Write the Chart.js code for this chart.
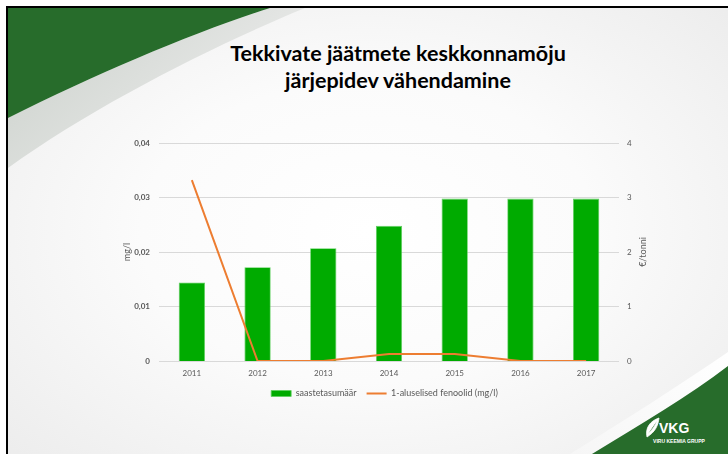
<!DOCTYPE html>
<html><head><meta charset="utf-8">
<script src="https://cdn.jsdelivr.net/npm/chart.js@4/dist/chart.umd.min.js"></script>
<style>
html,body{margin:0;padding:0;background:#fff;}
#wrap{position:relative;width:728px;height:454px;overflow:hidden;background:#fff;}
#slide{position:absolute;left:6px;top:6px;width:722px;height:448px;border-left:2px solid #000;border-top:2px solid #000;box-sizing:border-box;
 background:radial-gradient(ellipse 70% 75% at 50% 50%, #ffffff 0%, #fbfbfb 45%, #ececec 100%);}
#deco{position:absolute;left:0;top:0;}
#title{position:absolute;left:34px;width:728px;top:40px;text-align:center;font-family:Lato,"Open Sans",sans-serif;font-weight:bold;font-size:21.5px;line-height:27px;color:#000;}
#c{position:absolute;left:0;top:0;}
</style></head><body>
<div id="wrap">
<div id="slide"></div>
<svg id="deco" width="728" height="454">
 <defs>
  <linearGradient id="band" x1="0" y1="0" x2="1" y2="0.6">
   <stop offset="0" stop-color="#c9cfc9"/><stop offset="1" stop-color="#eeeeee"/>
  </linearGradient>
  <linearGradient id="band2" x1="1" y1="0" x2="0" y2="1">
   <stop offset="0" stop-color="#ffffff"/><stop offset="1" stop-color="#f6f6f6"/>
  </linearGradient>
 </defs>
 <path d="M270,8 L305,8 C215,45 95,105 8,168 L8,118 C100,72 195,32 270,8 Z" fill="url(#band)"/>
 <path d="M8,8 L270,8 C195,32 100,72 8,118 Z" fill="#276c2b"/>
 <path d="M728,352 L728,366 C690,395 640,425 592,454 L570,454 C625,420 680,385 728,352 Z" fill="url(#band2)"/>
 <path d="M728,366 L728,454 L592,454 C640,425 690,395 728,366 Z" fill="#276c2b"/>
 <path d="M647,437 C645,428 650,421 659,418 C658,426 655,432 647,437 Z M648,434 C652,430 655,426 657,421" fill="#fff" stroke="#fff" stroke-width="0.8"/>
 <text x="659" y="433" font-family="Liberation Sans,Arial,sans-serif" font-weight="bold" font-size="14" fill="#fff">VKG</text>
 <text x="679" y="443" text-anchor="middle" font-family="Liberation Sans,Arial,sans-serif" font-weight="bold" font-size="5" fill="#fff">VIRU KEEMIA GRUPP</text>
</svg>
<div id="title">Tekkivate jäätmete keskkonnamõju<br>järjepidev vähendamine</div>
<canvas id="c" width="728" height="454"></canvas>
</div>
<script>
const categories = ["2011","2012","2013","2014","2015","2016","2017"];
const barLabel = "saastetasumäär";
const barValues = [1.44, 1.72, 2.07, 2.48, 2.98, 2.98, 2.98];
const lineLabel = "1-aluselised fenoolid (mg/l)";
const lineValues = [0.0332, 0, 0, 0.0013, 0.0013, 0, 0];
const leftTitle = "mg/l";
const rightTitle = "€/tonni";

const tickColor = "#595959";
const rightTitlePlugin = {
  id: "rightTitle",
  afterLayout(chart) {
    if (chart.legend) { chart.legend.left -= 11; chart.legend.right -= 11; }
  },
  afterDraw(chart) {
    const ctx = chart.ctx, a = chart.chartArea;
    ctx.save();
    ctx.translate(643, (a.top + a.bottom) / 2);
    ctx.rotate(-Math.PI / 2);
    ctx.font = "9px Lato, 'Open Sans', sans-serif";
    ctx.fillStyle = tickColor;
    ctx.textAlign = "center";
    ctx.textBaseline = "middle";
    ctx.fillText(rightTitle, 0, 0);
    ctx.restore();
  }
};

new Chart(document.getElementById("c"), {
  data: {
    labels: categories,
    datasets: [
      { type: "line", label: lineLabel, data: lineValues, yAxisID: "y",
        borderColor: "#ED7D31", backgroundColor: "#ED7D31", borderWidth: 2,
        pointRadius: 0, tension: 0, pointStyle: "line", order: 0 },
      { type: "bar", label: barLabel, data: barValues, yAxisID: "y1",
        backgroundColor: "#00AB00", borderColor: "#5fcf5f", borderWidth: 0.8,
        categoryPercentage: 1, barPercentage: 0.4, pointStyle: "rect", order: 1 }
    ]
  },
  options: {
    responsive: false, animation: false,
    layout: { padding: { left: 122, right: 59, top: 143, bottom: 46 } },
    plugins: {
      title: { display: false },
      tooltip: { enabled: false },
      legend: {
        position: "bottom",
        reverse: true,
        labels: {
          usePointStyle: true, pointStyleWidth: 20, boxHeight: 6,
          color: tickColor, padding: 10,
          font: { family: "Lato, 'Open Sans', sans-serif", size: 9 }
        }
      }
    },
    scales: {
      x: {
        grid: { display: false }, border: { display: false },
        ticks: { color: tickColor, font: { family: "Lato, 'Open Sans', sans-serif", size: 8 }, padding: 0, maxRotation: 0 },
        afterFit(s) { s.height = 18; }
      },
      y: {
        position: "left", min: 0, max: 0.04,
        grid: { color: "#d9d9d9", drawTicks: false }, border: { display: false },
        ticks: { stepSize: 0.01, color: tickColor, padding: 9,
          font: { family: "Lato, 'Open Sans', sans-serif", size: 8, weight: "bold" },
          callback: v => v === 0 ? "0" : v.toFixed(2).replace(".", ",") },
        title: { display: true, text: leftTitle, color: tickColor, padding: 0,
          font: { family: "Lato, 'Open Sans', sans-serif", size: 9 } },
        afterFit(s) { s.width = 37; }
      },
      y1: {
        position: "right", min: 0, max: 4,
        grid: { display: false, drawTicks: false }, border: { display: false },
        ticks: { stepSize: 1, color: tickColor, padding: 8,
          font: { family: "Lato, 'Open Sans', sans-serif", size: 8 } },
        afterFit(s) { s.width = 50; }
      }
    }
  },
  plugins: [rightTitlePlugin]
});
</script>
</body></html>
